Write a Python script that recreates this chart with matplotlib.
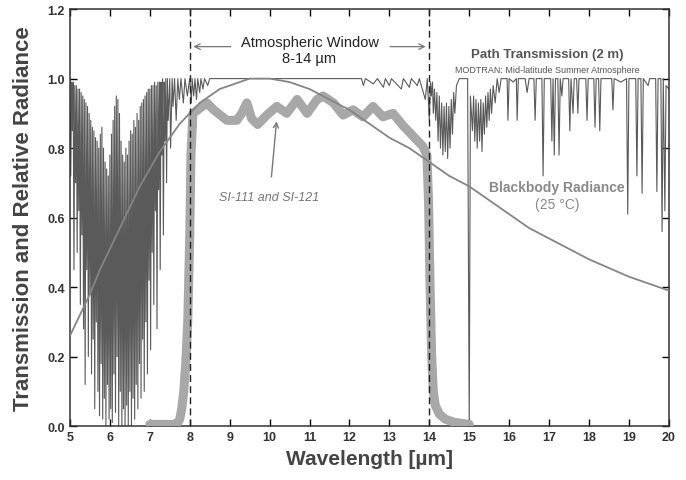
import numpy as np
import matplotlib
matplotlib.use("Agg")
import matplotlib.pyplot as plt

plt.rcParams['font.family'] = ['Liberation Sans', 'DejaVu Sans']

# path transmission (MODTRAN, 2 m) - water band 5-8 um
band_wl = [5.00, 5.02, 5.04, 5.06, 5.08, 5.10, 5.12, 5.14, 5.16, 5.18, 5.20, 5.22, 5.24, 5.26, 5.28,
           5.30, 5.32, 5.34, 5.36, 5.38, 5.40, 5.42, 5.44, 5.46, 5.48, 5.50, 5.52, 5.54, 5.56, 5.58,
           5.60, 5.62, 5.64, 5.66, 5.68, 5.70, 5.72, 5.74, 5.76, 5.78, 5.80, 5.82, 5.84, 5.86, 5.88,
           5.90, 5.92, 5.94, 5.96, 5.98, 6.00, 6.02, 6.04, 6.06, 6.08, 6.10, 6.12, 6.14, 6.16, 6.18,
           6.20, 6.22, 6.24, 6.26, 6.28, 6.30, 6.32, 6.34, 6.36, 6.38, 6.40, 6.42, 6.44, 6.46, 6.48,
           6.50, 6.52, 6.54, 6.56, 6.58, 6.60, 6.62, 6.64, 6.66, 6.68, 6.70, 6.72, 6.74, 6.76, 6.78,
           6.80, 6.82, 6.84, 6.86, 6.88, 6.90, 6.92, 6.94, 6.96, 6.98, 7.00, 7.02, 7.04, 7.06, 7.08,
           7.10, 7.12, 7.14, 7.16, 7.18, 7.20, 7.22, 7.24, 7.26, 7.28, 7.30, 7.32, 7.34, 7.36, 7.38,
           7.40, 7.42, 7.44, 7.46, 7.50, 7.52, 7.56, 7.58, 7.62, 7.66, 7.70, 7.74, 7.78, 7.84, 7.88,
           7.94, 8.00]
band_tr = [1.00, 0.72, 0.99, 0.85, 0.99, 0.45, 0.98, 0.70, 0.98, 0.50, 0.97, 0.62, 0.97, 0.35, 0.96,
           0.55, 0.95, 0.28, 0.94, 0.12, 0.93, 0.45, 0.92, 0.20, 0.90, 0.38, 0.88, 0.15, 0.86, 0.25,
           0.85, 0.05, 0.83, 0.30, 0.82, 0.10, 0.80, 0.03, 0.84, 0.18, 0.86, 0.02, 0.80, 0.08, 0.76,
           0.00, 0.74, 0.12, 0.72, 0.02, 0.78, 0.05, 0.84, 0.01, 0.88, 0.15, 0.92, 0.04, 0.95, 0.20,
           0.94, 0.00, 0.90, 0.10, 0.82, 0.00, 0.78, 0.05, 0.76, 0.00, 0.80, 0.06, 0.78, 0.00, 0.82,
           0.10, 0.85, 0.00, 0.84, 0.08, 0.88, 0.02, 0.86, 0.12, 0.90, 0.05, 0.88, 0.18, 0.92, 0.08,
           0.93, 0.25, 0.94, 0.10, 0.95, 0.30, 0.96, 0.15, 0.97, 0.42, 0.97, 0.22, 0.98, 0.50, 0.98,
           0.35, 0.99, 0.62, 0.98, 0.28, 0.99, 0.68, 0.99, 0.45, 0.99, 0.78, 1.00, 0.55, 0.99, 0.82,
           1.00, 0.70, 1.00, 0.88, 1.00, 0.80, 1.00, 0.92, 1.00, 0.88, 1.00, 0.94, 1.00, 0.93, 1.00,
           0.95, 1.00]

# window 8-14 um, weak lines only
window_wl = [8.04, 8.06, 8.10, 8.13, 8.17, 8.20, 8.25, 8.28, 8.33, 8.37, 8.45, 8.50, 12.30, 12.35,
             12.40, 12.60, 12.70, 12.85, 12.90, 13.00, 13.05, 13.30, 13.35, 13.50, 13.55, 13.70,
             13.75, 13.90, 13.95, 14.00, 14.03]
window_tr = [0.93, 1.00, 0.95, 1.00, 0.94, 1.00, 0.96, 1.00, 0.97, 1.00, 0.98, 1.00, 1.00, 0.98,
             1.00, 0.985, 1.00, 0.975, 1.00, 0.98, 1.00, 0.97, 1.00, 0.975, 1.00, 0.98,
             1.00, 0.94, 1.00, 0.88, 0.99]

# CO2 band and lines beyond 14 um
co2_wl = [14.05, 14.08, 14.10, 14.13, 14.16, 14.19, 14.22, 14.25, 14.28, 14.31, 14.34, 14.37, 14.40,
          14.43, 14.46, 14.49, 14.52, 14.55, 14.58, 14.61, 14.64, 14.68, 14.75, 14.96, 15.00, 15.03,
          15.08, 15.11, 15.14, 15.17, 15.20, 15.23, 15.26, 15.29, 15.32, 15.35, 15.38, 15.41, 15.44,
          15.47, 15.50, 15.53, 15.56, 15.60, 15.65, 15.70, 15.75, 15.80]
co2_tr = [0.95, 0.99, 0.90, 0.97, 0.88, 0.96, 0.82, 0.95, 0.80, 0.93, 0.78, 0.92, 0.79,
          0.93, 0.77, 0.92, 0.80, 0.94, 0.84, 0.96, 0.90, 0.98, 1.00, 1.00, 0.00, 0.95,
          0.85, 0.95, 0.82, 0.94, 0.80, 0.93, 0.82, 0.94, 0.79, 0.93, 0.84, 0.95, 0.86,
          0.96, 0.88, 0.97, 0.90, 0.98, 0.93, 1.00, 0.96, 1.00]

long_wl = [15.95, 15.97, 16.00, 16.10, 16.18, 16.20, 16.23, 16.40, 16.45, 16.50, 16.62, 16.65, 16.68,
           16.82, 16.85, 16.88, 17.04, 17.07, 17.10, 17.13, 17.16, 17.22, 17.25, 17.28, 17.32, 17.35,
           17.49, 17.52, 17.55, 17.60, 17.63, 17.69, 17.72, 17.75, 17.92, 17.95, 17.98, 18.12, 18.15,
           18.18, 18.24, 18.27, 18.30, 18.57, 18.60, 18.63, 18.80, 18.94, 18.97, 19.00, 19.17, 19.20,
           19.23, 19.30, 19.33, 19.36, 19.48, 19.52, 19.67, 19.70, 19.73, 19.80, 19.83, 19.86, 19.90,
           19.93, 20.00]
long_tr = [1.00, 0.88, 1.00, 0.99, 1.00, 0.88, 1.00, 1.00, 0.96, 1.00, 1.00, 0.88, 1.00,
           1.00, 0.72, 1.00, 1.00, 0.82, 1.00, 0.78, 1.00, 1.00, 0.78, 1.00, 0.95, 1.00,
           1.00, 0.85, 1.00, 0.90, 1.00, 1.00, 0.90, 1.00, 1.00, 0.88, 1.00, 1.00, 0.86,
           1.00, 1.00, 0.85, 1.00, 1.00, 0.91, 1.00, 0.99, 1.00, 0.61, 1.00, 1.00, 0.72,
           1.00, 1.00, 0.67, 1.00, 0.98, 1.00, 1.00, 0.675, 1.00, 1.00, 0.56, 1.00, 0.62,
           0.98, 0.97]

# blackbody radiance at 25 C, relative
bb_wl = [5.0, 5.25, 5.5, 5.75, 6.0, 6.25, 6.5, 6.75, 7.0, 7.25, 7.5, 7.75, 8.0, 8.25, 8.5, 8.75,
         9.0, 9.25, 9.5, 9.75, 10.0, 10.25, 10.5, 10.75, 11.0, 11.5, 12.0, 12.5, 13.0, 13.5, 14.0,
         14.5, 15.0, 15.5, 16.0, 16.5, 17.0, 17.5, 18.0, 18.5, 19.0, 19.5, 20.0]
bb_val = [0.26, 0.32, 0.38, 0.45, 0.51, 0.57, 0.63, 0.69, 0.74, 0.79, 0.83, 0.87, 0.90, 0.93,
          0.95, 0.97, 0.98, 0.99, 1.00, 1.00, 1.00, 0.995, 0.99, 0.98, 0.97, 0.94, 0.91, 0.87,
          0.83, 0.80, 0.76, 0.72, 0.69, 0.65, 0.61, 0.57, 0.54, 0.51, 0.48, 0.455, 0.43, 0.41, 0.39]

# SI-111 / SI-121 sensor response
si_wl = [7.0, 7.3, 7.6, 7.7, 7.75, 7.8, 7.85, 7.9, 7.95, 8.0, 8.03, 8.08, 8.2, 8.43, 8.6, 8.93,
         9.18, 9.3, 9.43, 9.55, 9.7, 9.93, 10.18, 10.43, 10.69, 10.94, 11.19, 11.34, 11.6, 11.84,
         12.09, 12.34, 12.59, 12.84, 13.09, 13.34, 13.59, 13.84, 13.94, 13.98, 14.02, 14.06, 14.1,
         14.15, 14.25, 14.4, 14.6, 14.8, 15.0]
si_val = [0.005, 0.005, 0.005, 0.01, 0.02, 0.05, 0.10, 0.18, 0.30, 0.55, 0.78, 0.90, 0.91, 0.93,
          0.91, 0.88, 0.88, 0.90, 0.93, 0.885, 0.868, 0.895, 0.92, 0.90, 0.94, 0.90, 0.94, 0.95,
          0.93, 0.895, 0.91, 0.89, 0.92, 0.89, 0.90, 0.865, 0.835, 0.805, 0.78, 0.65, 0.40, 0.20,
          0.10, 0.06, 0.035, 0.02, 0.012, 0.008, 0.005]

trans_wl = np.array(band_wl + window_wl + co2_wl + long_wl)
trans_tr = np.array(band_tr + window_tr + co2_tr + long_tr)

fig = plt.figure(figsize=(6.86, 4.81), dpi=100)
ax = fig.add_axes([0.102, 0.112, 0.873, 0.867])

ax.plot(trans_wl, trans_tr, color='#5a5a5a', lw=0.8, zorder=2)
ax.plot(si_wl, si_val, color='#a8a8a8', lw=6.5, solid_capstyle='round', zorder=3)
ax.plot(bb_wl, bb_val, color='#858585', lw=1.3, zorder=4)

for xv in (8, 14):
    ax.axvline(xv, color='#222222', lw=1, ls=(0, (5, 3)), zorder=5)

# atmospheric window arrows
ax.annotate('', xy=(8.02, 1.092), xytext=(9.1, 1.092),
            arrowprops=dict(arrowstyle='->', color='#777777', lw=0.9))
ax.annotate('', xy=(13.98, 1.092), xytext=(12.95, 1.092),
            arrowprops=dict(arrowstyle='->', color='#777777', lw=0.9))
ax.text(11.0, 1.105, 'Atmospheric Window', ha='center', va='center', fontsize=10.5, color='#222222')
ax.text(11.0, 1.058, '8-14 µm', ha='center', va='center', fontsize=10.5, color='#222222')

ax.text(16.95, 1.07, 'Path Transmission (2 m)', ha='center', va='center', fontsize=9.5,
        fontweight='bold', color='#555555')
ax.text(16.95, 1.025, 'MODTRAN: Mid-latitude Summer Atmosphere', ha='center', va='center',
        fontsize=6.5, color='#555555')

ax.text(17.2, 0.687, 'Blackbody Radiance', ha='center', va='center', fontsize=10,
        fontweight='bold', color='#8a8a8a')
ax.text(17.2, 0.638, '(25 °C)', ha='center', va='center', fontsize=10, color='#8a8a8a')

ax.annotate('SI-111 and SI-121', xy=(10.18, 0.885), xytext=(10.0, 0.66),
            ha='center', va='center', fontsize=9, fontstyle='italic', color='#777777',
            arrowprops=dict(arrowstyle='->', color='#777777', lw=1, shrinkA=8))

ax.set_xlim(5, 20)
ax.set_ylim(0, 1.2)
ax.set_xticks(range(5, 21))
ax.set_yticks(np.arange(0, 1.21, 0.2))
ax.set_yticklabels([f'{v:.1f}' for v in np.arange(0, 1.21, 0.2)])
ax.tick_params(direction='in', length=5, width=1, top=True, right=True,
               labelsize=9, labelcolor='#333333')
for lab in ax.get_xticklabels() + ax.get_yticklabels():
    lab.set_fontweight('bold')
for sp in ax.spines.values():
    sp.set_linewidth(1.1)
    sp.set_color('#333333')

ax.set_xlabel('Wavelength [µm]', fontsize=15, fontweight='bold', color='#444444', labelpad=4)
ax.set_ylabel('Transmission and Relative Radiance', fontsize=16, fontweight='bold',
              color='#444444', labelpad=10)

fig.savefig('out.png', dpi=100)
